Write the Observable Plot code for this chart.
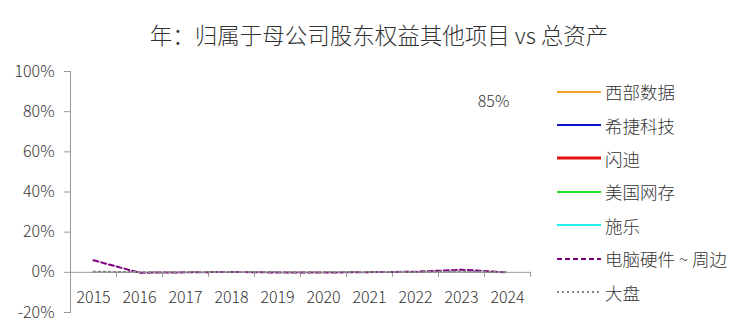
<!DOCTYPE html>
<html><head><meta charset="utf-8">
<script src="https://cdn.jsdelivr.net/npm/d3@7"></script>
<script src="https://cdn.jsdelivr.net/npm/@observablehq/plot@0.6"></script>
<style>
body{margin:0;background:#fff;font-family:"Noto Sans CJK SC","Noto Sans",sans-serif;}
#wrap{position:relative;width:750px;height:333px;overflow:hidden;}
#title{position:absolute;left:0;width:758px;top:19px;text-align:center;font-size:22.5px;color:#333;line-height:30px;font-weight:300;}
#legend{position:absolute;left:557px;top:75px;}
.row{display:flex;align-items:center;height:33.4px;font-size:17.5px;color:#333;font-weight:300;}
.row svg{margin-right:3px;}
</style></head>
<body><div id="wrap"><div id="chart"></div><div id="title">年：归属于母公司股东权益其他项目 vs 总资产</div><div id="legend"></div></div>
<script>
const years = ["2015","2016","2017","2018","2019","2020","2021","2022","2023","2024"];
const seriesNames = ["西部数据","希捷科技","闪迪","美国网存","施乐","电脑硬件 ~ 周边","大盘"];
const xbsj = [null,null,null,null,null,null,null,null,null,null];
const xjkj = [null,null,null,null,null,null,null,null,null,null];
const sd = [null,null,null,null,null,null,null,null,null,null];
const mgwc = [null,null,null,null,null,null,null,null,null,null];
const sl = [null,null,null,null,null,null,null,null,null,null];
const dnyj = [0.06,-0.002,0.000,0.002,-0.001,-0.001,0.001,0.003,0.013,0.000];
const dp = [0.003,0.001,0.001,0.002,0.001,0.001,0.002,0.002,0.004,0.001];
const yTicks = [-0.2,0,0.2,0.4,0.6,0.8,1.0];
const annotation = {year:"2024", value:0.85, label:"85%"};

const styles = [
  {stroke:"#F5A623", w:2, dash:null},
  {stroke:"#1010C8", w:2, dash:null},
  {stroke:"#E01010", w:3, dash:null},
  {stroke:"#22DD22", w:2, dash:null},
  {stroke:"#22EEEE", w:2, dash:null},
  {stroke:"#800080", w:2, dash:"5,3"},
  {stroke:"#888888", w:2, dash:"2,3"}
];
const allSeries = [xbsj,xjkj,sd,mgwc,sl,dnyj,dp];
const rows = [];
allSeries.forEach((arr,i)=>arr.forEach((v,j)=>{ if(v!=null) rows.push({name:seriesNames[i], year:years[j], value:v}); }));

const lineMarks = seriesNames.map((n,i)=>Plot.line(rows.filter(r=>r.name===n),{x:"year",y:"value",stroke:styles[i].stroke,strokeWidth:styles[i].w,strokeDasharray:styles[i].dash}));

const chart = Plot.plot({
  width:750, height:333,
  marginLeft:70, marginRight:220, marginTop:71, marginBottom:21,
  style:{fontFamily:"'Noto Sans CJK SC','Noto Sans',sans-serif", fontSize:"16px", color:"#333", fontWeight:300},
  x:{type:"point", domain:years, padding:0.5, axis:null},
  y:{domain:[-0.2,1], axis:null},
  marks:[
    Plot.ruleY([0],{stroke:"#999",strokeWidth:1}),
    Plot.ruleX(years,{x:d=>d, y1:0, y2:-0.025, dx:23, stroke:"#999"}),
    Plot.frame({anchor:"left", stroke:"#999"}),
    Plot.axisY({ticks:yTicks, tickFormat:d=>Math.round(d*100)+"%", tickSize:6, stroke:"#999", fill:"#333", fontSize:16, tickPadding:10, label:null}),
    Plot.text(years,{x:d=>d, y:0, dy:26, text:d=>d, fontSize:16, fill:"#333"}),
    Plot.text([annotation],{x:"year", y:"value", text:"label", dx:-14, fontSize:16, fill:"#333"}),
    ...lineMarks
  ]
});
chart.style.position="absolute"; chart.style.left="0"; chart.style.top="0";
document.getElementById("chart").appendChild(chart);

const leg = document.getElementById("legend");
seriesNames.forEach((n,i)=>{
  const s = styles[i];
  const row = document.createElement("div"); row.className="row";
  row.innerHTML = `<svg width="45" height="10"><line x1="0" x2="44" y1="5" y2="5" stroke="${s.stroke}" stroke-width="${s.w}" ${s.dash?`stroke-dasharray="${s.dash}"`:""}/></svg><span>${n}</span>`;
  leg.appendChild(row);
});
</script></body></html>
